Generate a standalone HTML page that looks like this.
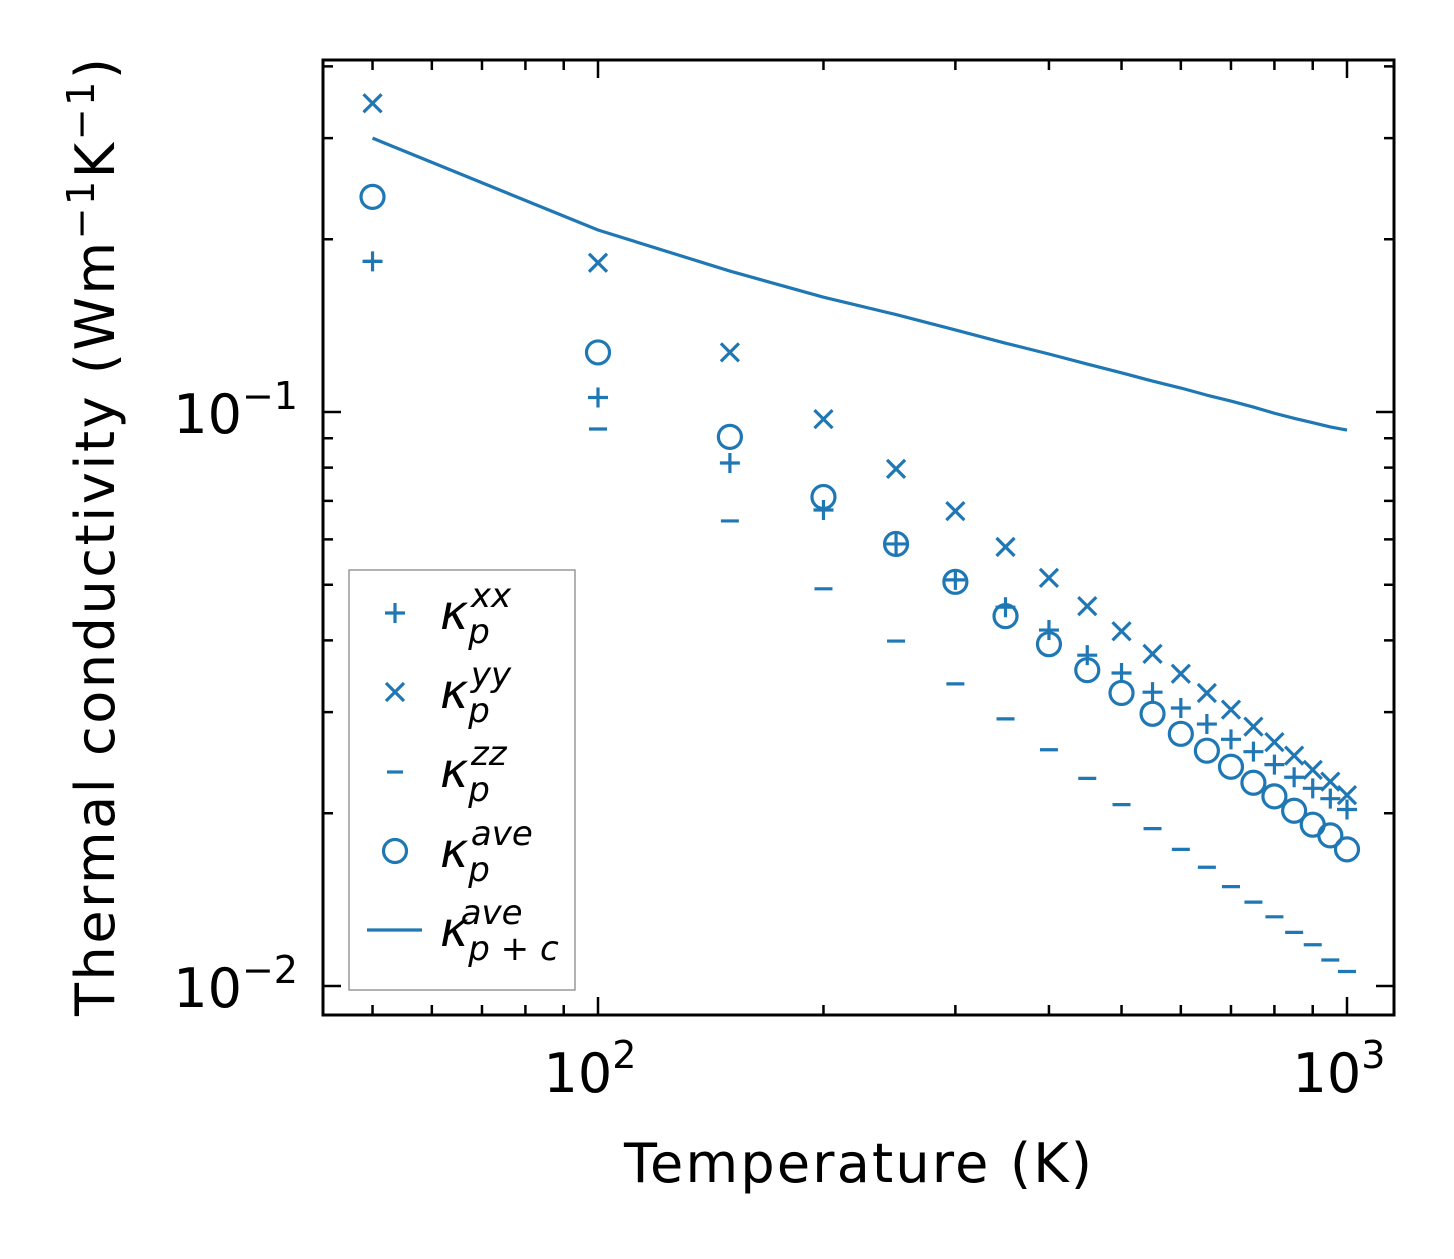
<!DOCTYPE html>
<html><head><meta charset="utf-8"><style>
body{margin:0;background:#fff}
svg text{font-family:"DejaVu Sans","Liberation Sans",sans-serif;fill:#000}
</style></head><body>
<svg id="chart" width="1454" height="1254" xmlns="http://www.w3.org/2000/svg">
<rect width="1454" height="1254" fill="#fff"/>
<g id="marks"></g>
<g id="axes"></g>
<text x="858" y="1182" font-size="54" text-anchor="middle" textLength="468">Temperature (K)</text>
<text transform="translate(114,537) rotate(-90)" font-size="54" text-anchor="middle" textLength="958">Thermal conductivity (Wm<tspan dy="-20" font-size="38">−1</tspan><tspan dy="20">K</tspan><tspan dy="-20" font-size="38">−1</tspan><tspan dy="20">)</tspan></text>
<g>
<rect x="349" y="570" width="226" height="420" fill="#fff" stroke="#999" stroke-width="1.5"/>
<g stroke="#1f77b4" stroke-width="3.2" fill="none">
<path d="M385 613h20M395 603v20"/>
<path d="M386 683l18 18M404 683l-18 18"/>
<path d="M387 772h16"/>
<circle cx="395" cy="851" r="11.5"/>
<path d="M367 930h55"/>
</g>
<g font-style="italic" font-size="48">
<text x="440" y="629">κ<tspan dy="14" font-size="34">p</tspan><tspan dx="-19" dy="-36" font-size="34">xx</tspan></text>
<text x="440" y="708">κ<tspan dy="14" font-size="34">p</tspan><tspan dx="-19" dy="-36" font-size="34">yy</tspan></text>
<text x="440" y="787">κ<tspan dy="14" font-size="34">p</tspan><tspan dx="-19" dy="-36" font-size="34">zz</tspan></text>
<text x="440" y="867">κ<tspan dy="14" font-size="34">p</tspan><tspan dx="-19" dy="-36" font-size="34">ave</tspan></text>
<text x="440" y="946">κ<tspan dy="14" font-size="34">p + c</tspan><tspan dx="-98" dy="-36" font-size="34">ave</tspan></text>
</g>
</g>
</svg>
<script>
const temps=[50,100,150,200,250,300,350,400,450,500,550,600,650,700,750,800,850,900,950,1000];
const kxx=[0.183,0.106,0.0815,0.0675,0.0589,0.0510,0.0457,0.0417,0.0377,0.0351,0.0325,0.0305,0.0286,0.0269,0.0256,0.0243,0.0231,0.0221,0.0212,0.0203];
const kyy=[0.345,0.182,0.127,0.0972,0.0796,0.0672,0.0582,0.0514,0.0459,0.0415,0.0379,0.0350,0.0324,0.0303,0.0283,0.0266,0.0252,0.0238,0.0227,0.0215];
const kzz=[0.183,0.0934,0.0646,0.0492,0.0399,0.0336,0.0292,0.0258,0.0230,0.0207,0.0188,0.0173,0.0161,0.0149,0.0140,0.0132,0.0124,0.0118,0.0111,0.0106];
const kave=[0.237,0.127,0.0905,0.0711,0.0589,0.0506,0.0441,0.0394,0.0355,0.0324,0.0298,0.0275,0.0257,0.0241,0.0226,0.0214,0.0202,0.0191,0.0183,0.0173];
const ktot=[0.300,0.2075,0.176,0.1585,0.1478,0.139,0.1318,0.1262,0.1212,0.117,0.1132,0.1101,0.107,0.1045,0.102,0.0995,0.0975,0.0958,0.0942,0.093];
const xMajor=[100,1000];
const xMinor=[50,60,70,80,90,200,300,400,500,600,700,800,900];
const yMajor=[0.1,0.01];
const yMinor=[0.02,0.03,0.04,0.05,0.06,0.07,0.08,0.09,0.2,0.3,0.4];

const L=323,R=1394,T=60,B=1015;
const X=v=>598+(Math.log10(v)-2)*749;
const Y=v=>412-(Math.log10(v)+1)*574;
const NS='http://www.w3.org/2000/svg';
const C='#1f77b4';
function mk(tag,attrs,parent){const e=document.createElementNS(NS,tag);for(const k in attrs)e.setAttribute(k,attrs[k]);parent.appendChild(e);return e;}
const marks=document.getElementById('marks');
const axes=document.getElementById('axes');

const line=mk('polyline',{points:temps.map((t,i)=>X(t)+','+Y(ktot[i])).join(' '),fill:'none',stroke:C,'stroke-width':3.2,'stroke-linejoin':'round'},marks);



temps.forEach((t,i)=>{
  const x=X(t);
  let y=Y(kxx[i]);
  const p=mk('path',{d:`M${x-10} ${y}h20M${x} ${y-10}v20`,stroke:C,'stroke-width':3.2,fill:'none'},marks);
  
  
  y=Y(kyy[i]);
  const q=mk('path',{d:`M${x-9} ${y-9}l18 18M${x+9} ${y-9}l-18 18`,stroke:C,'stroke-width':3.2,fill:'none'},marks);
  
  
  y=Y(kzz[i]);
  const m=mk('path',{d:`M${x-9} ${y}h18`,stroke:C,'stroke-width':3.2,fill:'none'},marks);
  
  
  y=Y(kave[i]);
  const c=mk('circle',{cx:x,cy:y,r:11.5,stroke:C,'stroke-width':3.2,fill:'none'},marks);
  
  
});

const fr=mk('rect',{x:L,y:T,width:R-L,height:B-T,fill:'none',stroke:'#000','stroke-width':3},axes);


function tickX(v,len){const x=X(v);mk('path',{d:`M${x} ${B}v${-len}M${x} ${T}v${len}`,stroke:'#000','stroke-width':2.5},axes);}
function tickY(v,len){const y=Y(v);mk('path',{d:`M${L} ${y}h${len}M${R} ${y}h${-len}`,stroke:'#000','stroke-width':2.5},axes);}
xMinor.forEach(v=>tickX(v,10));
xMajor.forEach(v=>tickX(v,18));
yMinor.forEach(v=>tickY(v,10));
yMajor.forEach(v=>tickY(v,18));
xMajor.forEach(v=>{
  const t=mk('text',{x:X(v)-8,y:1092,'font-size':54,'text-anchor':'middle'},axes);
  
  
  t.innerHTML='10<tspan dy="-24" font-size="38">'+Math.round(Math.log10(v))+'</tspan>';
});
yMajor.forEach(v=>{
  const t=mk('text',{x:298,y:Y(v)+21,'font-size':54,'text-anchor':'end'},axes);
  
  
  t.innerHTML='10<tspan dy="-24" font-size="38">−'+Math.round(-Math.log10(v))+'</tspan>';
});
</script>
</body></html>
